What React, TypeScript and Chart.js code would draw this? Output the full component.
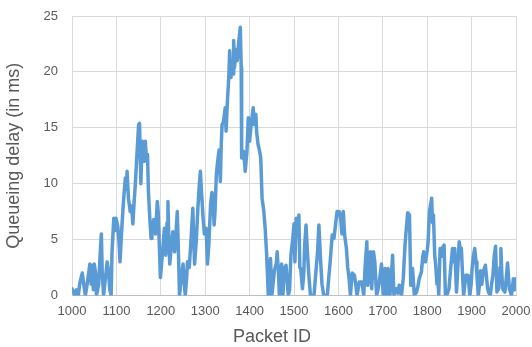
import React, { useEffect, useRef } from "react";
import { Chart, registerables } from "chart.js";

Chart.register(...registerables);

const packetIds: number[] = [
  1000, 1003, 1006, 1010, 1014, 1018, 1023, 1027, 1030, 1034, 1040, 1043, 1046, 1048, 1050, 1053, 1055, 1060, 1063, 1066,
  1068, 1071, 1075, 1079, 1082, 1085, 1088, 1090, 1094, 1097, 1099, 1103, 1106, 1108, 1112, 1116, 1120, 1122, 1124, 1127,
  1131, 1134, 1137, 1140, 1142, 1146, 1150, 1152, 1155, 1158, 1161, 1163, 1165, 1168, 1170, 1172, 1175, 1178, 1180, 1184,
  1188, 1192, 1194, 1197, 1199, 1202, 1204, 1208, 1211, 1214, 1216, 1218, 1220, 1224, 1227, 1231, 1234, 1237, 1240, 1242,
  1246, 1250, 1253, 1255, 1258, 1260, 1264, 1268, 1272, 1274, 1276, 1280, 1283, 1286, 1289, 1292, 1295, 1298, 1302, 1305,
  1308, 1312, 1315, 1317, 1320, 1322, 1325, 1328, 1331, 1334, 1336, 1338, 1341, 1345, 1347, 1350, 1353, 1355, 1358, 1360,
  1363, 1364, 1366, 1369, 1372, 1375, 1379, 1381, 1382, 1386, 1389, 1390, 1394, 1397, 1400, 1404, 1408, 1410, 1414, 1416,
  1419, 1422, 1425, 1428, 1432, 1435, 1438, 1440, 1442, 1445, 1447, 1450, 1454, 1456, 1460, 1462, 1465, 1467, 1469, 1472,
  1475, 1478, 1482, 1485, 1487, 1490, 1493, 1497, 1500, 1502, 1505, 1508, 1511, 1513, 1515, 1519, 1522, 1524, 1527, 1530,
  1533, 1537, 1541, 1545, 1549, 1553, 1556, 1560, 1563, 1567, 1571, 1575, 1578, 1581, 1586, 1590, 1594, 1597, 1600, 1602,
  1605, 1608, 1611, 1614, 1618, 1621, 1624, 1627, 1631, 1636, 1639, 1642, 1647, 1653, 1657, 1660, 1664, 1666, 1669, 1672,
  1675, 1679, 1682, 1686, 1689, 1692, 1697, 1701, 1705, 1708, 1712, 1716, 1719, 1722, 1725, 1728, 1731, 1734, 1737, 1742,
  1746, 1750, 1753, 1756, 1760, 1763, 1767, 1771, 1776, 1779, 1782, 1787, 1790, 1792, 1796, 1800, 1802, 1805, 1808, 1810,
  1812, 1814, 1817, 1819, 1822, 1824, 1826, 1829, 1832, 1835, 1838, 1841, 1844, 1849, 1853, 1857, 1860, 1862, 1866, 1869,
  1872, 1875, 1877, 1880, 1882, 1887, 1892, 1896, 1899, 1901, 1904, 1907, 1910, 1912, 1915, 1918, 1920, 1923, 1926, 1931,
  1936, 1939, 1942, 1945, 1948, 1951, 1954, 1957, 1961, 1964, 1966, 1968, 1970, 1975, 1978, 1981, 1985, 1990, 1994, 1997,
  2000,
];

const queueingDelay: number[] = [
  0.6, 0.3, 0, 0.5, 0, 1.2, 2.0, 0.8, 0, 1.0, 2.8, 1.0, 2.7, 0.5, 2.8, 2.0, 0, 1.0, 3.5, 5.5,
  2.0, 0, 1.5, 3.0, 2.2, 0.5, 0, 3.9, 6.9, 5.8, 6.9, 6.2, 4.6, 3.0, 6.0, 8.5, 10.5, 9.5, 11.1, 8.7,
  7.5, 8.0, 6.4, 8.5, 9.6, 12.5, 15.3, 15.4, 10.0, 13.8, 13.5, 12.0, 13.8, 12.0, 12.6, 9.3, 7.0, 5.1, 5.7, 6.8,
  5.5, 8.4, 7.5, 4.0, 1.6, 3.0, 3.9, 6.0, 3.6, 6.5, 8.4, 5.0, 2.8, 4.5, 5.7, 3.9, 5.5, 7.5, 3.3, 0,
  1.5, 2.8, 1.0, 0, 1.5, 3.0, 2.5, 5.0, 7.8, 5.0, 2.8, 5.0, 7.5, 9.5, 11.1, 9.0, 7.0, 5.5, 6.0, 2.8,
  4.5, 8.1, 9.2, 9.0, 6.3, 7.5, 10.8, 12.0, 13.0, 10.2, 13.5, 15.3, 15.5, 16.8, 14.7, 17.4, 19.5, 21.9, 19.5, 21.0,
  19.8, 22.8, 20.4, 22.0, 21.0, 22.5, 24.0, 20.4, 12.3, 12.9, 11.7, 11.1, 12.9, 15.9, 13.8, 15.5, 16.8, 15.3, 16.2, 14.5,
  13.5, 13.0, 12.3, 8.7, 7.5, 6.0, 3.9, 2.0, 0, 1.5, 3.3, 0, 1.5, 2.3, 2.8, 3.9, 2.0, 0, 1.5, 2.8,
  0, 2.4, 2.7, 1.0, 0, 0.5, 3.6, 5.0, 6.4, 3.0, 6.9, 5.5, 7.2, 2.5, 2.4, 0.6, 2.0, 4.5, 6.3, 4.0,
  2.0, 0, 0, 0, 2.0, 3.9, 6.3, 3.0, 1.0, 0, 0, 0, 1.5, 2.8, 5.4, 5.1, 6.5, 7.5, 7.2, 7.5,
  6.9, 5.5, 7.5, 5.4, 4.2, 2.5, 1.5, 0, 2.0, 1.8, 1.0, 0, 1.2, 1.2, 0, 2.5, 4.8, 0.9, 2.0, 3.9,
  0.6, 3.9, 3.0, 0, 0.5, 1.2, 2.8, 0, 2.4, 0, 2.4, 0, 1.5, 3.6, 0, 0.5, 0.6, 0.2, 0.9, 0,
  1.5, 4.5, 6.0, 7.4, 7.2, 0.9, 2.4, 0, 0.3, 0.8, 1.5, 2.1, 3.5, 3.9, 3.0, 4.0, 4.8, 7.5, 8.2, 8.7,
  6.5, 7.2, 3.5, 2.8, 1.0, 1.8, 0, 4.2, 3.5, 4.3, 4.5, 0, 0, 0.6, 2.5, 4.2, 3.0, 4.2, 0.3, 2.5,
  4.8, 4.0, 4.2, 1.5, 0, 1.8, 1.8, 0, 1.0, 2.4, 3.5, 4.2, 3.0, 1.8, 0, 1.0, 2.2, 1.0, 2.1, 2.7,
  0.6, 0.2, 0, 1.0, 1.8, 3.5, 4.4, 0.3, 0.6, 2.5, 4.2, 2.0, 0.6, 0.3, 1.5, 2.9, 0.6, 0, 1.5, 0.5,
  1.5,
];

const xTitle = "Packet ID";
const yTitle = "Queueing delay (in ms)";

const FONT = "'Liberation Sans', Arial, sans-serif";

const xTitlePlugin = {
  id: "xTitleCentered",
  afterDraw(chart: any) {
    const ctx = chart.ctx;
    ctx.save();
    ctx.font = `18px ${FONT}`;
    ctx.fillStyle = "#595959";
    ctx.textAlign = "center";
    ctx.textBaseline = "middle";
    ctx.fillText(xTitle, chart.width / 2 + 6, chart.height - 10);
    ctx.restore();
  },
};

export default function App() {
  const canvasRef = useRef<HTMLCanvasElement | null>(null);

  useEffect(() => {
    const canvas = canvasRef.current;
    if (!canvas) return;
    const points = packetIds.map((x, i) => ({ x, y: queueingDelay[i] }));
    const chart = new Chart(canvas, {
      type: "line",
      data: {
        datasets: [
          {
            data: points,
            borderColor: "#5B9BD5",
            borderWidth: 3.5,
            pointRadius: 0,
            tension: 0,
            borderJoinStyle: "round",
            borderCapStyle: "round",
            fill: false,
          },
        ],
      },
      plugins: [xTitlePlugin],
      options: {
        animation: false,
        responsive: false,
        maintainAspectRatio: false,
        layout: { padding: { top: 0, right: 0, left: 3, bottom: 20 } },
        plugins: { legend: { display: false }, tooltip: { enabled: false } },
        scales: {
          x: {
            type: "linear",
            min: 1000,
            max: 2000,
            grid: { color: "#d9d9d9", lineWidth: 1, drawTicks: false },
            border: { color: "#bfbfbf", width: 1 },
            afterFit: (scale: any) => {
              scale.paddingRight = 16;
            },
            ticks: {
              stepSize: 100,
              color: "#595959",
              font: { family: FONT, size: 13 },
              padding: 8,
              maxRotation: 0,
              autoSkip: false,
              callback: (v: any) => String(v),
            },
            title: { display: false },
          },
          y: {
            min: 0,
            max: 25,
            grid: { color: "#d9d9d9", lineWidth: 1, drawTicks: false },
            border: { display: false },
            afterFit: (scale: any) => {
              scale.paddingTop = 16;
            },
            ticks: {
              stepSize: 5,
              color: "#595959",
              font: { family: FONT, size: 13 },
              padding: 14,
              callback: (v: any) => String(v),
            },
            title: {
              display: true,
              text: yTitle,
              color: "#595959",
              font: { family: FONT, size: 18 },
              padding: { top: 0, bottom: 5 },
            },
          },
        },
      },
    });
    return () => chart.destroy();
  }, []);

  return (
    <div style={{ position: "fixed", left: 0, top: 0, width: 532, height: 347, background: "#fff" }}>
      <canvas ref={canvasRef} width={532} height={347} style={{ width: 532, height: 347 }} />
    </div>
  );
}
